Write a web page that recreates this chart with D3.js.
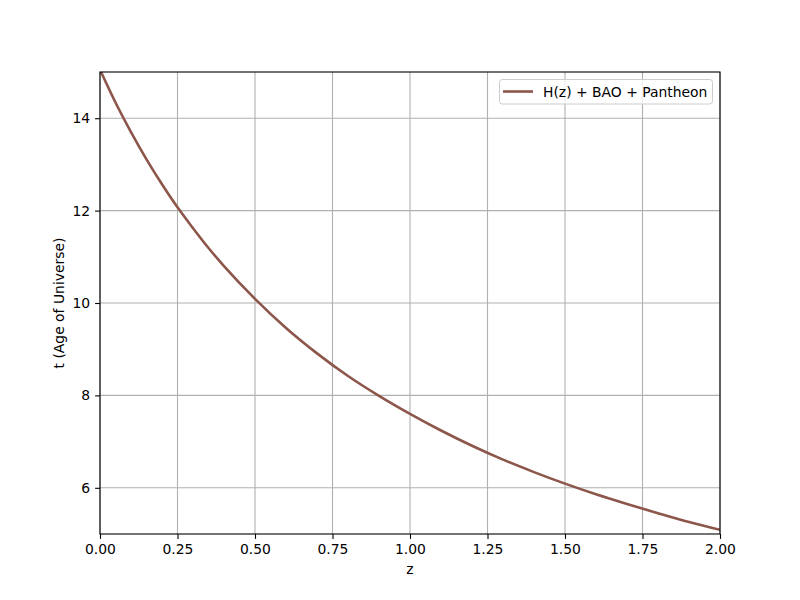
<!DOCTYPE html>
<html><head><meta charset="utf-8">
<script src="https://cdn.jsdelivr.net/npm/d3@7"></script>
<style>body{margin:0;background:#fff}svg{display:block}text{font-family:"DejaVu Sans",sans-serif}</style>
</head><body><div id="chart"></div>
<script>
const zValues = [0, 0.05, 0.1, 0.15, 0.2, 0.25, 0.3, 0.35, 0.4, 0.5, 0.6, 0.7, 0.8, 0.9, 1.0, 1.1, 1.2, 1.3, 1.4, 1.5, 1.6, 1.7, 1.8, 1.9, 2.0];
const tValues = [15.05, 14.34, 13.70, 13.11, 12.57, 12.07, 11.62, 11.19, 10.80, 10.09, 9.46, 8.91, 8.42, 7.99, 7.60, 7.24, 6.91, 6.61, 6.34, 6.09, 5.86, 5.65, 5.45, 5.26, 5.09];
const xTicks = [0, 0.25, 0.5, 0.75, 1.0, 1.25, 1.5, 1.75, 2.0];
const yTicks = [6, 8, 10, 12, 14];
const seriesName = "H(z) + BAO + Pantheon";

const W = 800, H = 600;
const m = {left: 100, right: 80, top: 72, bottom: 66};
const svg = d3.select("#chart").append("svg").attr("width", W).attr("height", H);
const x = d3.scaleLinear().domain([0, 2]).range([m.left, W - m.right]);
const y = d3.scaleLinear().domain([5, 15]).range([H - m.bottom, m.top]);

svg.append("defs").append("clipPath").attr("id", "clip")
  .append("rect").attr("x", m.left).attr("y", m.top)
  .attr("width", W - m.left - m.right).attr("height", H - m.top - m.bottom);

// grid
const g = svg.append("g");
g.selectAll(".vg").data(xTicks).enter().append("line")
  .attr("x1", d => x(d)).attr("x2", d => x(d)).attr("y1", m.top).attr("y2", H - m.bottom)
  .attr("stroke", "#b0b0b0").attr("stroke-width", 1.1);
g.selectAll(".hg").data(yTicks).enter().append("line")
  .attr("y1", d => y(d)).attr("y2", d => y(d)).attr("x1", m.left).attr("x2", W - m.right)
  .attr("stroke", "#b0b0b0").attr("stroke-width", 1.1);

// line
const data = zValues.map((z, i) => [z, tValues[i]]);
svg.append("path").datum(data).attr("clip-path", "url(#clip)")
  .attr("fill", "none").attr("stroke", "#8c564b").attr("stroke-width", 2.6)
  .attr("d", d3.line().x(d => x(d[0])).y(d => y(d[1])).curve(d3.curveMonotoneX));

// axes
const xAxis = svg.append("g").attr("transform", `translate(0,${H - m.bottom})`)
  .call(d3.axisBottom(x).tickValues(xTicks).tickFormat(d3.format(".2f")).tickSize(4.9).tickPadding(4.9));
const yAxis = svg.append("g").attr("transform", `translate(${m.left},0)`)
  .call(d3.axisLeft(y).tickValues(yTicks).tickFormat(d3.format("d")).tickSize(4.9).tickPadding(4.9));
[xAxis, yAxis].forEach(a => {
  a.select(".domain").remove();
  a.selectAll("text").attr("font-size", 13.9).attr("fill", "#000").attr("font-family", "DejaVu Sans");
  a.selectAll("line").attr("stroke", "#000").attr("stroke-width", 1.1);
});
svg.append("rect").attr("x", m.left).attr("y", m.top)
  .attr("width", W - m.left - m.right).attr("height", H - m.top - m.bottom)
  .attr("fill", "none").attr("stroke", "#000").attr("stroke-width", 1.1);

// labels
svg.append("text").attr("x", x(1)).attr("y", 574).attr("text-anchor", "middle")
  .attr("font-size", 13.9).text("z");
svg.append("text").attr("transform", `translate(64,${(m.top + H - m.bottom) / 2}) rotate(-90)`)
  .attr("text-anchor", "middle").attr("font-size", 13.9).text("t (Age of Universe)");

// legend
const lg = svg.append("g");
lg.append("rect").attr("x", 499.5).attr("y", 79.5).attr("width", 213).attr("height", 24.5)
  .attr("rx", 2.8).attr("fill", "#fff").attr("fill-opacity", 0.8)
  .attr("stroke", "#cccccc").attr("stroke-width", 1);
lg.append("line").attr("x1", 503).attr("x2", 533).attr("y1", 91.5).attr("y2", 91.5)
  .attr("stroke", "#8c564b").attr("stroke-width", 2.6);
lg.append("text").attr("x", 543).attr("y", 96.5).attr("font-size", 13.9).text(seriesName);
</script></body></html>
